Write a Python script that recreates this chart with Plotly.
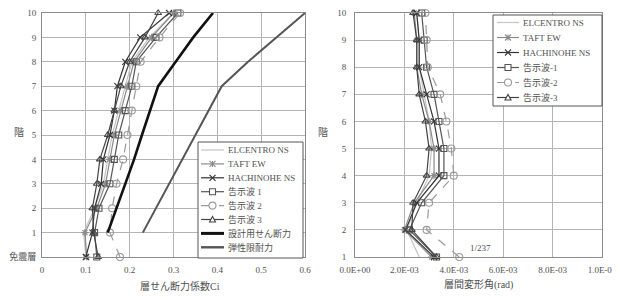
import plotly.graph_objects as go

# ---------------- data ----------------
floors_left = [0, 1, 2, 3, 4, 5, 6, 7, 8, 9, 10]
floor_labels_left = ["免震層", "1", "2", "3", "4", "5", "6", "7", "8", "9", "10"]
floors_design = [1, 2, 3, 4, 5, 6, 7, 8, 9, 10]

ci_elcentro = [0.100, 0.095, 0.120, 0.140, 0.150, 0.160, 0.175, 0.190, 0.205, 0.245, 0.300]
ci_taft = [0.102, 0.098, 0.125, 0.145, 0.155, 0.165, 0.180, 0.195, 0.210, 0.250, 0.300]
ci_hachinohe = [0.100, 0.115, 0.120, 0.135, 0.140, 0.155, 0.165, 0.172, 0.190, 0.224, 0.290]
ci_kokuji1 = [0.125, 0.120, 0.130, 0.155, 0.165, 0.175, 0.190, 0.205, 0.215, 0.260, 0.310]
ci_kokuji2 = [0.178, 0.155, 0.160, 0.170, 0.185, 0.195, 0.205, 0.215, 0.225, 0.268, 0.315]
ci_kokuji3 = [0.128, 0.118, 0.115, 0.125, 0.132, 0.150, 0.165, 0.180, 0.200, 0.235, 0.265]
ci_design = [0.150, 0.170, 0.190, 0.210, 0.228, 0.247, 0.265, 0.305, 0.345, 0.390]
ci_elastic = [0.230, 0.260, 0.290, 0.320, 0.350, 0.380, 0.410, 0.470, 0.535, 0.600]

floors_right = [1, 2, 3, 4, 5, 6, 7, 8, 9, 10]
dr_elcentro = [2.60e-3, 2.10e-3, 2.50e-3, 3.00e-3, 3.10e-3, 3.00e-3, 2.80e-3, 2.60e-3, 2.60e-3, 2.50e-3]
dr_taft = [3.10e-3, 2.00e-3, 2.40e-3, 3.20e-3, 3.20e-3, 3.00e-3, 2.70e-3, 2.50e-3, 2.50e-3, 2.40e-3]
dr_hachinohe = [3.20e-3, 2.05e-3, 2.50e-3, 3.40e-3, 3.40e-3, 3.20e-3, 2.90e-3, 2.60e-3, 2.60e-3, 2.50e-3]
dr_kokuji1 = [3.30e-3, 2.20e-3, 2.70e-3, 3.60e-3, 3.60e-3, 3.40e-3, 3.20e-3, 2.90e-3, 2.80e-3, 2.70e-3]
dr_kokuji2 = [4.22e-3, 2.90e-3, 3.00e-3, 4.00e-3, 3.90e-3, 3.70e-3, 3.45e-3, 2.95e-3, 2.90e-3, 2.85e-3]
dr_kokuji3 = [3.30e-3, 2.30e-3, 2.35e-3, 2.90e-3, 3.00e-3, 2.85e-3, 2.60e-3, 2.50e-3, 2.50e-3, 2.35e-3]

x_ticks_left = [0, 0.1, 0.2, 0.3, 0.4, 0.5, 0.6]
x_ticktext_left = ["0", "0.1", "0.2", "0.3", "0.4", "0.5", "0.6"]
x_ticks_right = [0, 0.002, 0.004, 0.006, 0.008, 0.01]
x_ticktext_right = ["0.0E+00", "2.0E-03", "4.0E-03", "6.0E-03", "8.0E-03", "1.0E-02"]

names_left = ["ELCENTRO NS", "TAFT EW", "HACHINOHE NS", "告示波 1", "告示波 2", "告示波 3",
              "設計用せん断力", "弾性限耐力"]
names_right = ["ELCENTRO NS", "TAFT EW", "HACHINOHE NS", "告示波-1", "告示波-2", "告示波-3"]

# ---------------- styles ----------------
FONT = "Liberation Serif, Noto Sans CJK JP, serif"
TXT = "#505050"
OFF = 8                      # default page (body) margin of the browser
W, H = 620 - OFF, 298 - OFF

series_styles = [
    dict(color="#c4c4c4", dash="solid", sym=None),
    dict(color="#8a8a8a", dash="solid", sym="asterisk"),
    dict(color="#333333", dash="solid", sym="x"),
    dict(color="#555555", dash="solid", sym="square"),
    dict(color="#9a9a9a", dash="dash", sym="circle"),
    dict(color="#444444", dash="solid", sym="triangle"),
]
plotly_symbols = {"asterisk": "asterisk-open", "x": "x-thin-open", "square": "square-open",
                  "circle": "circle-open", "triangle": "triangle-up-open"}


def trace_kwargs(st):
    kw = dict(line=dict(color=st["color"], width=1.2, dash=st["dash"]))
    if st["sym"] is None:
        kw["mode"] = "lines"
    else:
        kw["mode"] = "lines+markers"
        size = 7 if st["sym"] == "circle" else 6
        kw["marker"] = dict(symbol=plotly_symbols[st["sym"]], size=size, color=st["color"],
                            line=dict(width=1.1, color=st["color"]))
    return kw


fig = go.Figure()

left_series = [ci_elcentro, ci_taft, ci_hachinohe, ci_kokuji1, ci_kokuji2, ci_kokuji3]
for name, vals, st in zip(names_left[:6], left_series, series_styles):
    fig.add_trace(go.Scatter(x=vals, y=floors_left, name=name, xaxis="x", yaxis="y",
                             cliponaxis=False, showlegend=False, **trace_kwargs(st)))
fig.add_trace(go.Scatter(x=ci_design, y=floors_design, name=names_left[6], mode="lines",
                         line=dict(color="#111111", width=2.6), xaxis="x", yaxis="y",
                         cliponaxis=False, showlegend=False))
fig.add_trace(go.Scatter(x=ci_elastic, y=floors_design, name=names_left[7], mode="lines",
                         line=dict(color="#555555", width=2.0), xaxis="x", yaxis="y",
                         cliponaxis=False, showlegend=False))

right_series = [dr_elcentro, dr_taft, dr_hachinohe, dr_kokuji1, dr_kokuji2, dr_kokuji3]
for name, vals, st in zip(names_right, right_series, series_styles):
    fig.add_trace(go.Scatter(x=vals, y=floors_right, name=name, xaxis="x2", yaxis="y2",
                             cliponaxis=False, showlegend=False, **trace_kwargs(st)))


def px_x(p):
    return (p - OFF) / W


def px_y(p):
    return 1 - (p - OFF) / H


axis_common = dict(showgrid=True, gridcolor="#b4b4b4", gridwidth=1, zeroline=False,
                   showline=True, linecolor="#8c8c8c", linewidth=1, mirror=True,
                   automargin=False,
                   ticks="", tickfont=dict(family=FONT, size=9, color=TXT))

fig.update_layout(
    width=W, height=H,
    margin=dict(l=0, r=0, t=0, b=0),
    paper_bgcolor="white", plot_bgcolor="white",
    font=dict(family=FONT, size=9, color=TXT),
    showlegend=False,
    xaxis=dict(domain=[px_x(42), px_x(305)], range=[0, 0.6], tickvals=x_ticks_left,
               ticktext=x_ticktext_left, anchor="y", ticklabelstandoff=4, **axis_common),
    yaxis=dict(domain=[px_y(257), px_y(13)], range=[0, 10], tickvals=floors_left,
               ticktext=floor_labels_left, anchor="x", ticklabelstandoff=3, **axis_common),
    xaxis2=dict(domain=[px_x(355), px_x(602)], range=[0, 0.01], tickvals=x_ticks_right,
                ticktext=x_ticktext_right, anchor="y2", ticklabelstandoff=4, **axis_common),
    yaxis2=dict(domain=[px_y(257), px_y(13)], range=[1, 10], tickvals=floors_right,
                ticktext=[str(f) for f in floors_right], anchor="x2", ticklabelstandoff=6,
                **axis_common),
)


def paper_text(px, py, text, size=10):
    fig.add_annotation(x=px_x(px), y=px_y(py), xref="paper", yref="paper", text=text,
                       showarrow=False, xanchor="center", yanchor="middle",
                       font=dict(family=FONT, size=size, color=TXT))


# axis titles
paper_text(180, 286, "層せん断力係数Ci")
paper_text(478, 284, "層間変形角(rad)")
paper_text(19, 133, "階")
paper_text(323, 133, "階")

# 1/237 label next to the max drift point
fig.add_annotation(x=dr_kokuji2[0], y=floors_right[0], xref="x2", yref="y2",
                   text="1/237", showarrow=False, xanchor="left", yanchor="bottom",
                   xshift=9, yshift=2, font=dict(family=FONT, size=9, color=TXT))


# ---------------- hand-drawn legends (compact rows like the original) ----------------
def add_glyph(sym, cx, cy, color):
    r = 3
    X = lambda v: px_x(v)
    Y = lambda v: px_y(v)
    line = dict(color=color, width=1.1)
    if sym == "square":
        fig.add_shape(type="rect", xref="paper", yref="paper", x0=X(cx - r), x1=X(cx + r),
                      y0=Y(cy - r), y1=Y(cy + r), line=line, fillcolor="white")
    elif sym == "circle":
        fig.add_shape(type="circle", xref="paper", yref="paper", x0=X(cx - 3.5), x1=X(cx + 3.5),
                      y0=Y(cy - 3.5), y1=Y(cy + 3.5), line=line, fillcolor="white")
    elif sym == "triangle":
        path = (f"M {X(cx - r)} {Y(cy + 2.5)} L {X(cx + r)} {Y(cy + 2.5)} "
                f"L {X(cx)} {Y(cy - 3)} Z")
        fig.add_shape(type="path", xref="paper", yref="paper", path=path, line=line,
                      fillcolor="white")
    elif sym == "x":
        path = (f"M {X(cx - r)} {Y(cy - r)} L {X(cx + r)} {Y(cy + r)} "
                f"M {X(cx - r)} {Y(cy + r)} L {X(cx + r)} {Y(cy - r)}")
        fig.add_shape(type="path", xref="paper", yref="paper", path=path, line=line)
    elif sym == "asterisk":
        path = (f"M {X(cx - r)} {Y(cy - r)} L {X(cx + r)} {Y(cy + r)} "
                f"M {X(cx - r)} {Y(cy + r)} L {X(cx + r)} {Y(cy - r)} "
                f"M {X(cx)} {Y(cy - r)} L {X(cx)} {Y(cy + r)}")
        fig.add_shape(type="path", xref="paper", yref="paper", path=path, line=line)


def add_legend(box, names, styles, row0, step, lx0, lx1, tx):
    fig.add_shape(type="rect", xref="paper", yref="paper", x0=px_x(box[0]), x1=px_x(box[1]),
                  y0=px_y(box[3]), y1=px_y(box[2]), line=dict(color="#555555", width=1),
                  fillcolor="white", layer="above")
    for i, (name, st) in enumerate(zip(names, styles)):
        cy = row0 + i * step
        fig.add_shape(type="line", xref="paper", yref="paper", x0=px_x(lx0), x1=px_x(lx1),
                      y0=px_y(cy), y1=px_y(cy),
                      line=dict(color=st["color"], width=st.get("width", 1.2), dash=st["dash"]))
        if st.get("sym"):
            add_glyph(st["sym"], (lx0 + lx1) / 2, cy, st["color"])
        fig.add_annotation(x=px_x(tx), y=px_y(cy), xref="paper", yref="paper", text=name,
                           showarrow=False, xanchor="left", yanchor="middle",
                           font=dict(family=FONT, size=9, color=TXT))


left_legend_styles = series_styles + [
    dict(color="#111111", dash="solid", sym=None, width=3),
    dict(color="#555555", dash="solid", sym=None, width=2.4),
]
add_legend((198, 303, 142, 258), names_left, left_legend_styles, 150, 13.9, 201, 224, 226)
add_legend((493, 602, 15, 106), names_right, series_styles, 22.5, 15, 497, 519, 521)

fig.write_html("out.html")
